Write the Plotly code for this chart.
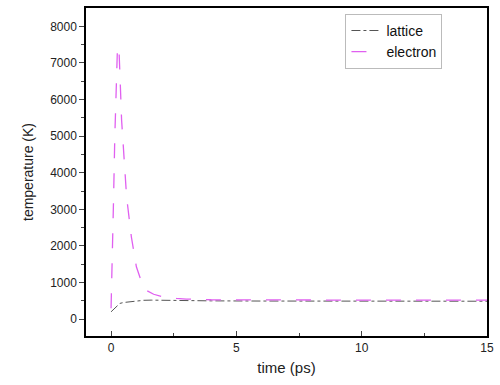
import plotly.graph_objects as go

t_e = [0, 0.05, 0.1, 0.15, 0.2, 0.25, 0.28, 0.32, 0.38, 0.42, 0.49, 0.62, 0.81, 1.01, 1.2, 1.4, 1.7, 2.05, 2.6, 3, 4, 6, 8, 10, 12, 15]
T_e = [300, 1500, 3300, 5000, 6500, 7300, 7450, 7300, 6200, 5440, 4710, 3340, 2250, 1430, 1050, 790, 680, 610, 570, 550, 530, 520, 520, 520, 520, 520]

t_l = [0, 0.1, 0.2, 0.35, 0.5, 0.75, 1.0, 1.3, 1.6, 2, 3, 4, 6, 8, 10, 12, 15]
T_l = [200, 260, 340, 430, 455, 475, 495, 515, 520, 515, 505, 500, 495, 490, 490, 490, 490]

fig = go.Figure()
fig.add_trace(go.Scatter(x=t_l, y=T_l, mode="lines", name="lattice",
                         line=dict(color="#555555", width=1, dash="dashdot")))
fig.add_trace(go.Scatter(x=t_e, y=T_e, mode="lines", name="electron",
                         line=dict(color="#e060f0", width=1.3, dash="longdash")))

font = "Liberation Sans, Arial, sans-serif"
fig.update_layout(
    width=500, height=385,
    margin=dict(l=86, r=6, t=8, b=49),
    paper_bgcolor="white", plot_bgcolor="white",
    font=dict(family=font, size=12, color="#222"),
    showlegend=True,
    legend=dict(x=0.647, y=0.982, xanchor="left", yanchor="top",
                bgcolor="white", bordercolor="#bbbbbb", borderwidth=1,
                font=dict(size=14, color="#111"), tracegroupgap=0),
    xaxis=dict(range=[-1, 15], tickvals=[0, 5, 10, 15], ticks="inside", ticklen=5,
               showline=True, linecolor="black", linewidth=1.5, mirror=True,
               showgrid=False, zeroline=False,
               minor=dict(tickvals=[2.5, 7.5, 12.5], ticks="inside", ticklen=3),
               title=dict(text="time (ps)", font=dict(size=15), standoff=8)),
    yaxis=dict(range=[-460, 8500], tickvals=[0, 1000, 2000, 3000, 4000, 5000, 6000, 7000, 8000],
               ticks="outside", ticklen=5,
               showline=True, linecolor="black", linewidth=1.5, mirror=True,
               showgrid=False, zeroline=False,
               minor=dict(tickvals=[500, 1500, 2500, 3500, 4500, 5500, 6500, 7500], ticks="outside", ticklen=3),
               title=dict(text="temperature (K)", font=dict(size=14), standoff=13)),
)
fig.write_html("out.html")
